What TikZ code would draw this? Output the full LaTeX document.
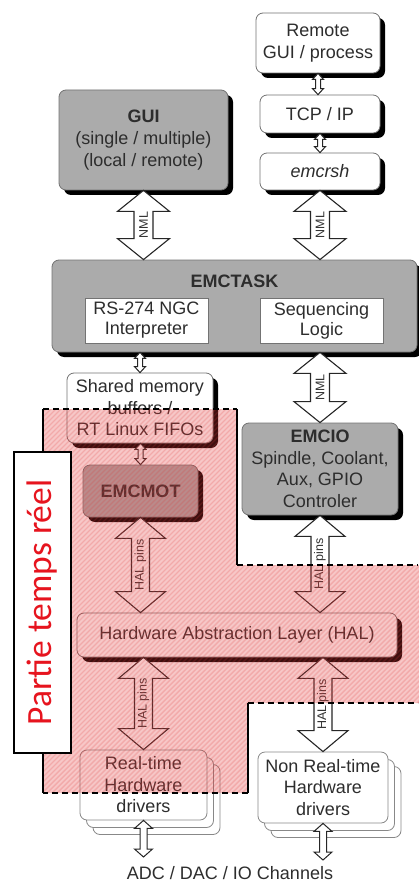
\documentclass[tikz,border=0pt]{standalone}
\usepackage{fontspec}
\setmainfont{Liberation Sans}
\newfontfamily\calib{Carlito}
\usetikzlibrary{shadows,calc}
\definecolor{boxgray}{RGB}{171,171,171}
\definecolor{edgegray}{RGB}{115,115,115}
\definecolor{txt}{RGB}{45,45,45}
\definecolor{rtred}{RGB}{225,55,55}
\definecolor{labred}{RGB}{230,20,30}
\newcommand\vdarrow[7]{%
  \path[#1] let \p1=(#2), \p2=(#3) in
    (\x1,\y1) -- (\x1+#5,\y1-#6) -- (\x1+#4,\y1-#6) -- (\x1+#4,\y2+#6)
    -- (\x1+#5,\y2+#6) -- (\x1,\y2) -- (\x1-#5,\y2+#6) -- (\x1-#4,\y2+#6)
    -- (\x1-#4,\y1-#6) -- (\x1-#5,\y1-#6) -- cycle
    (\x1,{0.5*\y1+0.5*\y2}) node[arrlab]{#7};}
\newcommand\rtregion{(43,409) -- (237,409) -- (237,565) -- (430,565) -- (430,703) -- (248,703) -- (248,793) -- (43,793) -- cycle}
\tikzset{
  box/.style={draw=edgegray, line width=0.8pt, rounded corners=7pt, fill=white,
    align=center, text=txt, inner sep=0pt, font=\fontsize{18}{21.5}\selectfont,
    drop shadow={shadow xshift=5pt, shadow yshift=-5pt, opacity=1, fill=black}},
  graybox/.style={box, fill=boxgray},
  innerbox/.style={draw=edgegray, line width=0.8pt, fill=white, align=center,
    text=txt, inner sep=0pt, font=\fontsize{18}{20}\selectfont},
  stackbox/.style={draw=edgegray!85, line width=0.8pt, rounded corners=7pt,
    fill=white, align=center, text=txt, inner sep=0pt,
    font=\fontsize{18}{21.5}\selectfont},
  plain/.style={text=txt, inner sep=0pt, font=\fontsize{18}{21}\selectfont},
  bigarr/.style={draw=black!85, line width=1.1pt, fill=white, line join=miter},
  smallarr/.style={draw=black!85, line width=1pt, fill=white, line join=miter},
  arrlab/.style={rotate=90, inner sep=0pt, text=black!80,
    font=\fontsize{12.5}{13}\selectfont},
  hatchline/.style={draw=rtred, line width=1.4pt, opacity=0.2},
  dashline/.style={line width=1.3pt, dash pattern=on 6pt off 4pt},
  solidline/.style={line width=1.1pt},
  lblbox/.style={draw=black, line width=1.2pt, fill=white, rotate=90,
    text=labred, inner sep=0pt, font=\calib\fontsize{35.5}{36}\selectfont},
}
\begin{document}
\begin{tikzpicture}[x=1pt,y=-1pt]
\useasboundingbox (0,0) rectangle (418,885);
% boxes
\node[box, minimum width=124pt, minimum height=60pt] (remote) at (318,43) {Remote\\GUI / process};
\node[box, minimum width=120pt, minimum height=38pt] (tcp) at (320,114) {TCP / IP};
\node[box, minimum width=120pt, minimum height=37pt] (emcrsh) at (320,171.5) {\itshape emcrsh};
\node[graybox, minimum width=169pt, minimum height=100pt, font=\fontsize{18}{22}\selectfont] (gui) at (143.5,140) {\textbf{GUI}\\(single / multiple)\\(local / remote)};
\node[graybox, minimum width=365pt, minimum height=92pt] (task) at (234.5,306) {};
\node[plain, font=\fontsize{18}{21}\bfseries] (tasktitle) at (234.5,281) {EMCTASK};
\node[innerbox, minimum width=123pt, minimum height=45pt] (rs) at (146.5,320.5) {RS-274 NGC\\Interpreter};
\node[innerbox, minimum width=123pt, minimum height=45pt] (seq) at (321.5,320.5) {Sequencing\\Logic};
\node[box, minimum width=146pt, minimum height=70pt] (shm) at (140,408) {Shared memory\\buffers /\\RT Linux FIFOs};
\node[graybox, minimum width=156pt, minimum height=92pt] (emcio) at (320,469) {\textbf{EMCIO}\\Spindle, Coolant,\\Aux, GPIO\\Controler};
\node[graybox, minimum width=115pt, minimum height=52pt] (emcmot) at (140.5,491) {\textbf{EMCMOT}};
\node[box, minimum width=320pt, minimum height=44pt] (hal) at (237,635) {Hardware Abstraction Layer (HAL)};
% stacked driver boxes
\node[stackbox, minimum width=127pt, minimum height=70pt] (rtc) at (156.5,799.5) {};
\node[stackbox, minimum width=127pt, minimum height=70pt] (rtb) at (150,792.5) {};
\node[stackbox, minimum width=127pt, minimum height=70pt] (rt) at (143.5,785) {Real-time\\Hardware\\drivers};
\node[stackbox, minimum width=130pt, minimum height=71pt] (nrtc) at (336,802) {};
\node[stackbox, minimum width=130pt, minimum height=71pt] (nrtb) at (329.5,795) {};
\node[stackbox, minimum width=130pt, minimum height=71pt] (nrt) at (323,787.5) {Non Real-time\\Hardware\\drivers};
\node[plain] (adc) at (230,873) {ADC / DAC / IO Channels};
\coordinate (adcL) at (143.5,857);
\coordinate (adcR) at (323,860);
% arrows
\vdarrow{smallarr}{remote.south}{remote.south |- tcp.north}{2.5pt}{5.5pt}{6pt}{}
\vdarrow{smallarr}{tcp.south}{tcp.south |- emcrsh.north}{2.5pt}{5.5pt}{6pt}{}
\vdarrow{bigarr}{gui.south}{gui.south |- task.north}{9.5pt}{26pt}{21pt}{NML}
\vdarrow{bigarr}{emcrsh.south}{emcrsh.south |- task.north}{9.5pt}{26pt}{21pt}{NML}
\vdarrow{smallarr}{shm.north |- task.south}{shm.north}{2.5pt}{5.5pt}{6pt}{}
\vdarrow{bigarr}{emcio.north |- task.south}{emcio.north}{9.5pt}{26pt}{21pt}{NML}
\vdarrow{smallarr}{emcmot.north |- shm.south}{emcmot.north}{2.5pt}{5.5pt}{6pt}{}
\vdarrow{bigarr}{emcmot.south}{emcmot.south |- hal.north}{9pt}{25pt}{21pt}{HAL pins}
\vdarrow{bigarr}{emcio.south}{emcio.south |- hal.north}{9pt}{25pt}{21pt}{HAL pins}
\vdarrow{bigarr}{rt.north |- hal.south}{rt.north}{9pt}{25pt}{21pt}{HAL pins}
\vdarrow{bigarr}{nrt.north |- hal.south}{nrt.north}{9pt}{25pt}{21pt}{HAL pins}
\vdarrow{smallarr}{rt.south}{adcL}{3.5pt}{9pt}{8pt}{}
\vdarrow{smallarr}{nrt.south}{adcR}{3.5pt}{9pt}{8pt}{}
% real-time region overlay
\path[fill=rtred, fill opacity=0.28, rounded corners=3pt] \rtregion;
\begin{scope}
  \clip \rtregion;
  \foreach \i in {-850,-845,...,440} {
    \draw[hatchline] (\i,800) -- ++(400,-400);
  }
\end{scope}
\draw[dashline] (43,409) -- (237,409);
\draw[dashline] (237,565) -- (418,565);
\draw[dashline] (248,703) -- (418,703);
\draw[dashline] (248,793) -- (43,793);
\draw[solidline] (43,409) -- (43,793);
\draw[solidline] (237,409) -- (237,565);
\draw[solidline] (248,703) -- (248,793);
% label
\node[lblbox, minimum width=301pt, minimum height=57pt] (lbl) at (42.5,602.5) {Partie temps réel};
\end{tikzpicture}
\end{document}
